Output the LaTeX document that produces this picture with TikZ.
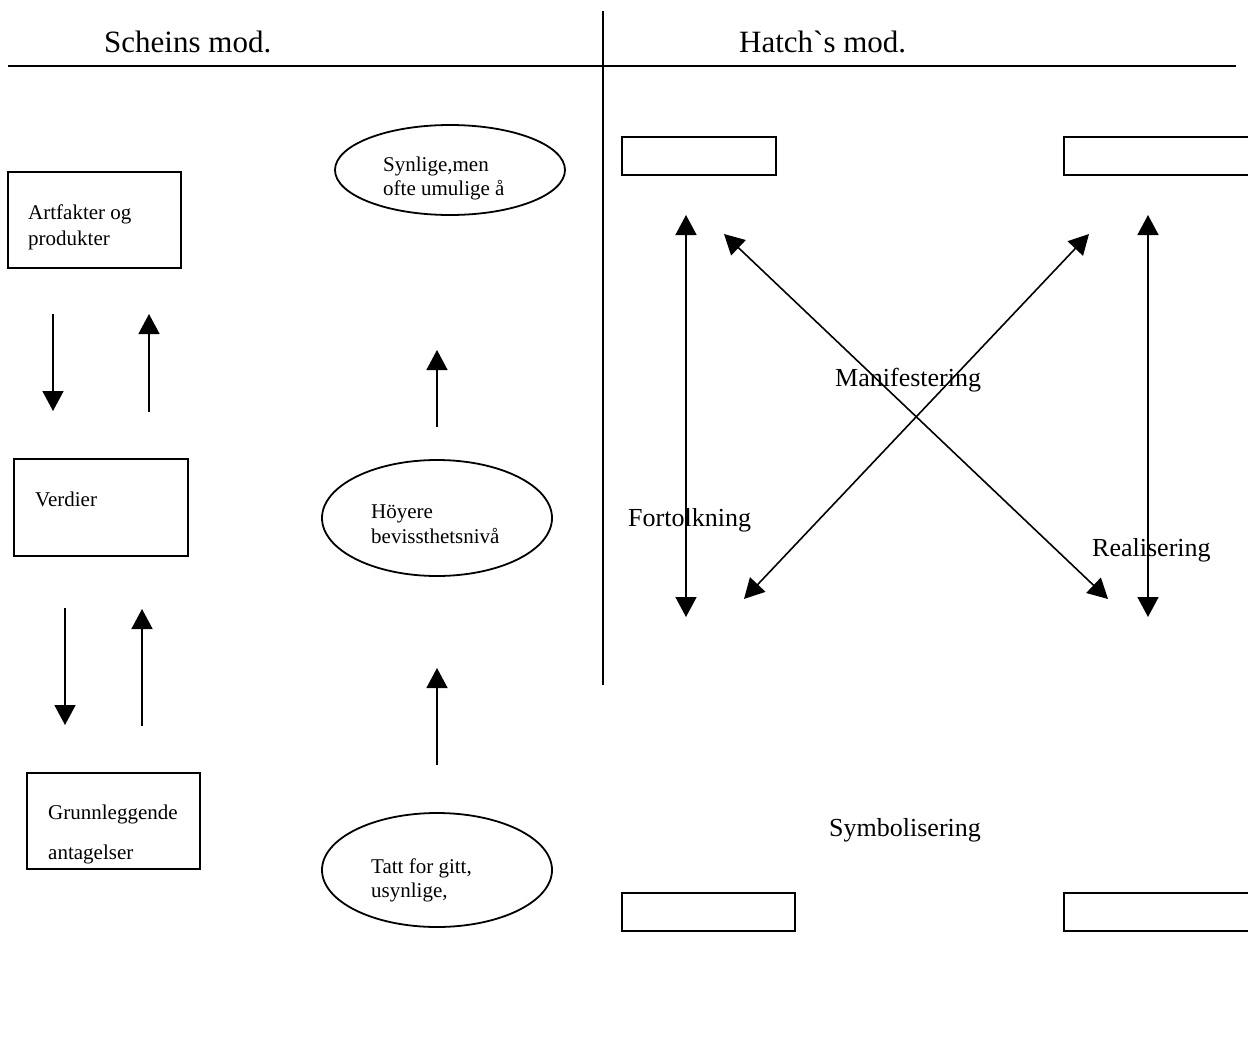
\documentclass[tikz,border=0pt]{standalone}
\usepackage{fontspec}
\setmainfont{Liberation Serif}[Ligatures=TeXOff]
\usetikzlibrary{arrows.meta,shapes.geometric}
\tikzset{
  boxstyle/.style={draw,line width=2pt},
  ovalstyle/.style={draw,line width=1.8pt},
  arr/.style={line width=1.6pt,-{Triangle[width=21pt,length=20pt]}},
  darr/.style={line width=1.6pt,{Triangle[width=21pt,length=20pt]}-{Triangle[width=21pt,length=20pt]}},
  small/.style={font=\fontsize{21}{25}\selectfont,anchor=base west,inner sep=0pt,align=left},
  mid/.style={font=\fontsize{26}{30}\selectfont,anchor=base west,inner sep=0pt},
  head/.style={font=\fontsize{31}{36}\selectfont,anchor=base west,inner sep=0pt},
}
\begin{document}
\begin{tikzpicture}[x=1pt,y=-1pt]
\useasboundingbox (0,0) rectangle (1248,1039);
% header
\coordinate (hl) at (8,66);
\coordinate (hr) at (1236,66);
\coordinate (vt) at (603,11);
\coordinate (vb) at (603,685);
\draw[line width=1.8pt] (hl) -- (hr);
\draw[line width=1.6pt] (vt) -- (vb);
\node[head] (schein) at (104,52) {Scheins mod.};
\node[head] (hatch) at (739,52) {Hatch`s mod.};

% left boxes
\draw[boxstyle] (8,172) rectangle (181,268);
\node[small] (artf) at (28,219) {Artfakter og};
\node[small] (prod) at (28,245) {produkter};
\draw[boxstyle] (14,459) rectangle (188,556);
\node[small] (verd) at (35,506) {Verdier};
\begin{scope}
\clip (27,773) rectangle (200,868);
\node[small] (grunn) at (48,819) {Grunnleggende};
\node[small] (antag) at (48,859) {antagelser};
\end{scope}
\draw[boxstyle] (27,773) rectangle (200,869);

% left arrows
\coordinate (a1s) at (53,314); \coordinate (a1e) at (53,411);
\coordinate (a2s) at (149,412); \coordinate (a2e) at (149,314);
\coordinate (a3s) at (65,608); \coordinate (a3e) at (65,725);
\coordinate (a4s) at (142,726); \coordinate (a4e) at (142,609);
\coordinate (a5s) at (437,427); \coordinate (a5e) at (437,350);
\coordinate (a6s) at (437,765); \coordinate (a6e) at (437,668);
\draw[arr] (a1s) -- (a1e);
\draw[arr] (a2s) -- (a2e);
\draw[arr] (a3s) -- (a3e);
\draw[arr] (a4s) -- (a4e);
\draw[arr] (a5s) -- (a5e);
\draw[arr] (a6s) -- (a6e);

% ellipses
\node[ovalstyle,ellipse,minimum width=230pt,minimum height=90pt] (e1) at (450,170) {};
\node[small] (e1t1) at (383,171) {Synlige,men};
\node[small] (e1t2) at (383,195) {ofte umulige å};
\node[ovalstyle,ellipse,minimum width=230pt,minimum height=116pt] (e2) at (437,518) {};
\node[small] (e2t1) at (371,518) {Höyere};
\node[small] (e2t2) at (371,543) {bevissthetsnivå};
\node[ovalstyle,ellipse,minimum width=230pt,minimum height=114pt] (e3) at (437,870) {};
\node[small] (e3t1) at (371,873) {Tatt for gitt,};
\node[small] (e3t2) at (371,897) {usynlige,};

% right boxes
\draw[boxstyle] (622,137) rectangle (776,175);
\draw[boxstyle] (1064,137) rectangle (1260,175);
\draw[boxstyle] (622,893) rectangle (795,931);
\draw[boxstyle] (1064,893) rectangle (1260,931);

% right arrows
\coordinate (v1t) at (686,215); \coordinate (v1b) at (686,617);
\coordinate (v2t) at (1148,215); \coordinate (v2b) at (1148,617);
\coordinate (d1t) at (724,234); \coordinate (d1b) at (1108,599);
\coordinate (d2t) at (1089,234); \coordinate (d2b) at (744,599);
\draw[darr] (v1t) -- (v1b);
\draw[darr] (v2t) -- (v2b);
\draw[darr] (d1t) -- (d1b);
\draw[darr] (d2t) -- (d2b);

\node[mid] (manif) at (835,386) {Manifestering};
\node[mid] (fort) at (628,526) {Fortolkning};
\node[mid] (real) at (1092,556) {Realisering};
\node[mid] (symb) at (829,836) {Symbolisering};
\end{tikzpicture}
\end{document}
